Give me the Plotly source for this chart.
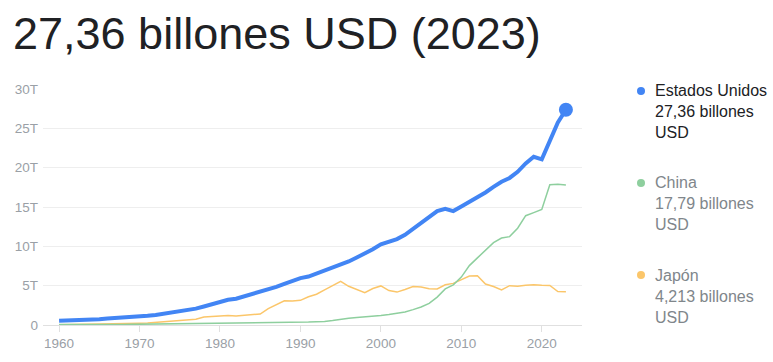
import plotly.graph_objects as go

years = list(range(1960, 2024))

usa = [0.543, 0.563, 0.605, 0.639, 0.686, 0.744, 0.815, 0.862, 0.943, 1.020,
       1.073, 1.165, 1.280, 1.425, 1.545, 1.684, 1.873, 2.082, 2.352, 2.627,
       2.857, 3.207, 3.343, 3.634, 4.037, 4.339, 4.580, 4.855, 5.236, 5.642,
       5.963, 6.158, 6.520, 6.859, 7.287, 7.640, 8.073, 8.578, 9.063, 9.631,
       10.251, 10.582, 10.929, 11.457, 12.217, 13.039, 13.816, 14.474, 14.770, 14.478,
       15.049, 15.600, 16.254, 16.843, 17.551, 18.206, 18.695, 19.477, 20.533, 21.381,
       21.060, 23.315, 25.744, 27.361]

china = [0.0597, 0.0500, 0.0472, 0.0507, 0.0597, 0.0704, 0.0769, 0.0728, 0.0709, 0.0797,
         0.0926, 0.0998, 0.1136, 0.1385, 0.1442, 0.1634, 0.1539, 0.1749, 0.1495, 0.1783,
         0.1911, 0.1957, 0.2096, 0.2343, 0.2598, 0.3094, 0.3010, 0.2702, 0.3104, 0.3459,
         0.3609, 0.3834, 0.4269, 0.4447, 0.5643, 0.7344, 0.8630, 0.9615, 1.0290, 1.0940,
         1.2113, 1.3394, 1.4705, 1.6603, 1.9553, 2.2860, 2.7521, 3.5500, 4.5943, 5.1017,
         6.0872, 7.5515, 8.5322, 9.5704, 10.4757, 11.0616, 11.2333, 12.3104, 13.8948, 14.2799,
         14.6877, 17.8200, 17.8817, 17.7948]

japan = [0.0444, 0.0537, 0.0607, 0.0698, 0.0818, 0.0910, 0.1056, 0.1236, 0.1469, 0.1722,
         0.2126, 0.2403, 0.3187, 0.4321, 0.4797, 0.5217, 0.5861, 0.7213, 1.0134, 1.0555,
         1.1053, 1.2182, 1.1349, 1.2435, 1.3185, 1.3986, 2.0785, 2.5326, 3.0719, 3.0542,
         3.1327, 3.5843, 3.9088, 4.4547, 4.9985, 5.5459, 4.9231, 4.4924, 4.0982, 4.6355,
         4.9683, 4.3748, 4.1821, 4.5193, 4.8930, 4.8317, 4.6014, 4.5794, 5.1061, 5.2891,
         5.7591, 6.2333, 6.2722, 5.2124, 4.8965, 4.4449, 5.0037, 4.9309, 5.0409, 5.1179,
         5.0558, 5.0349, 4.2564, 4.2129]

y_ticks = [0, 5, 10, 15, 20, 25, 30]
y_tick_labels = ["0", "5T", "10T", "15T", "20T", "25T", "30T"]
x_ticks = [1960, 1970, 1980, 1990, 2000, 2010, 2020]

title_text = "27,36 billones USD (2023)"
legend_names = ["Estados Unidos", "China", "Japón"]
legend_values = ["27,36 billones<br>USD", "17,79 billones<br>USD", "4,213 billones<br>USD"]

C_US = "#4285f4"
C_CN = "#8ecf9e"
C_JP = "#fbc66a"
FONT = "Liberation Sans, Arial, sans-serif"

# the page's body margin is removed below, so figure pixels == screen pixels
W, H = 773, 362
L, R, T, B = 43, 582, 89, 325

def px(x):
    return (x - L) / (R - L)

def py(y):
    return (B - y) / (B - T)

fig = go.Figure()
fig.add_trace(go.Scatter(x=years, y=japan, mode="lines",
                         line=dict(color=C_JP, width=1.5), hoverinfo="skip"))
fig.add_trace(go.Scatter(x=years, y=china, mode="lines",
                         line=dict(color=C_CN, width=1.5), hoverinfo="skip"))
fig.add_trace(go.Scatter(x=years, y=usa, mode="lines",
                         line=dict(color=C_US, width=4), hoverinfo="skip"))
fig.add_trace(go.Scatter(x=[years[-1]], y=[usa[-1]], mode="markers",
                         marker=dict(color=C_US, size=14), hoverinfo="skip"))

fig.update_layout(
    width=W, height=H,
    margin=dict(l=L, r=W - R, t=T, b=H - B, pad=0),
    paper_bgcolor="white", plot_bgcolor="white",
    showlegend=False,
    font=dict(family=FONT, size=13, color="#9aa0a6"),
    xaxis=dict(range=[1958, 2025], tickvals=x_ticks, ticks="outside", ticklen=6,
               tickcolor="#e0e0e0", showgrid=False, zeroline=False, showline=False,
               tickfont=dict(size=13.5, color="#9aa0a6"), fixedrange=True),
    yaxis=dict(range=[0, 30], tickvals=y_ticks, ticktext=y_tick_labels,
               showgrid=True, gridcolor="#eeeeee", gridwidth=1, zeroline=True,
               zerolinecolor="#e0e0e0", zerolinewidth=1, showline=False,
               ticks="", ticklabelstandoff=4,
               tickfont=dict(size=13.5, color="#9aa0a6"), fixedrange=True),
)

annotations = [dict(text=title_text, xref="paper", yref="paper",
                    x=px(11), y=py(34), xanchor="left", yanchor="middle",
                    showarrow=False, font=dict(family=FONT, size=45, color="#202124"))]

dot_y = [91, 183, 275]
mid_y = [111, 203, 296]
colors = [C_US, C_CN, C_JP]
text_colors = ["#202124", "#80868b", "#80868b"]
shapes = []
for name, val, dy, my, c, tc in zip(legend_names, legend_values, dot_y, mid_y, colors, text_colors):
    shapes.append(dict(type="circle", xref="paper", yref="paper",
                       xsizemode="pixel", ysizemode="pixel",
                       xanchor=px(641), yanchor=py(dy),
                       x0=-4, x1=4, y0=-4, y1=4,
                       fillcolor=c, line=dict(width=0)))
    annotations.append(dict(text=name + "<br>" + val, xref="paper", yref="paper",
                            x=px(653), y=py(my), xanchor="left", yanchor="middle",
                            align="left", showarrow=False,
                            font=dict(family=FONT, size=16, color=tc)))

fig.update_layout(annotations=annotations, shapes=shapes)
fig.write_html("out.html", config={"displayModeBar": False},
               post_script="document.body.style.margin='0';")
